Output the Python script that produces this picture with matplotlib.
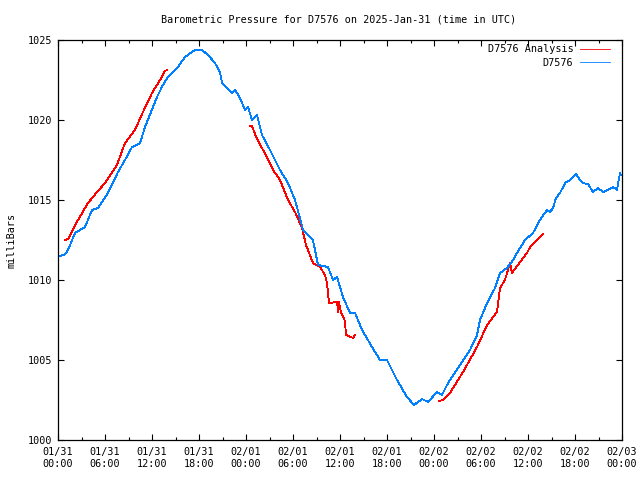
import matplotlib
matplotlib.use("Agg")
import matplotlib.pyplot as plt
from matplotlib.ticker import MultipleLocator

# Hours since 2025-01-31 00:00 UTC, pressure in millibars
obs_hours = [0.0, 0.26, 0.89, 1.28, 2.17, 2.81, 3.45, 4.34, 5.11, 6.38, 7.66, 8.55, 9.45, 10.47,
             11.11, 12.13, 12.64, 13.4, 14.04, 15.32, 16.21, 17.49, 18.38, 19.15, 20.04, 20.68,
             20.94, 21.58, 22.21, 22.6, 23.23, 23.87, 24.26, 24.77, 25.4, 26.04, 27.06, 28.34,
             29.36, 30.26, 31.28, 32.55, 33.19, 34.47, 35.11, 35.62, 36.38, 37.28, 37.92, 38.81,
             40.09, 41.11, 42.0, 43.28, 44.55, 45.45, 46.47, 47.24, 48.38, 49.02, 49.79, 51.07,
             52.6, 53.49, 53.87, 54.77, 55.79, 56.43, 57.32, 58.09, 58.6, 59.62, 60.64, 61.53,
             62.43, 62.81, 63.19, 63.58, 64.09, 64.73, 65.36, 66.13, 66.64, 67.02, 67.66, 68.3,
             68.94, 69.57, 70.21, 70.85, 71.36, 71.74, 71.87]
obs_press = [1011.44, 1011.5, 1011.6, 1011.88, 1012.94, 1013.13, 1013.31, 1014.38, 1014.5,
             1015.44, 1016.75, 1017.5, 1018.31, 1018.56, 1019.56, 1020.81, 1021.44, 1022.19,
             1022.69, 1023.31, 1023.94, 1024.38, 1024.38, 1024.06, 1023.56, 1023.0, 1022.31,
             1022.0, 1021.69, 1021.88, 1021.38, 1020.63, 1020.81, 1020.0, 1020.31, 1019.06,
             1018.13, 1016.88, 1016.06, 1015.0, 1013.13, 1012.5, 1010.94, 1010.81, 1010.0,
             1010.19, 1008.94, 1007.94, 1007.94, 1006.88, 1005.81, 1005.0, 1005.0, 1003.75,
             1002.69, 1002.19, 1002.56, 1002.38, 1003.0, 1002.81, 1003.56, 1004.5, 1005.63,
             1006.56, 1007.5, 1008.56, 1009.5, 1010.44, 1010.75, 1011.25, 1011.69, 1012.5,
             1012.94, 1013.75, 1014.38, 1014.25, 1014.5, 1015.13, 1015.44, 1016.06, 1016.25,
             1016.63, 1016.25, 1016.06, 1016.0, 1015.5, 1015.75, 1015.5, 1015.63, 1015.81,
             1015.63, 1016.69, 1016.56]

ana1_hours = [0.89, 1.28, 2.55, 3.83, 4.98, 6.0, 7.53, 8.55, 9.83, 10.85, 12.0, 13.02, 13.66, 13.92]
ana1_press = [1012.5, 1012.56, 1013.75, 1014.81, 1015.5, 1016.06, 1017.19, 1018.56, 1019.38,
              1020.5, 1021.69, 1022.5, 1023.06, 1023.13]

ana2_hours = [24.51, 24.77, 25.28, 26.17, 27.45, 28.34, 29.36, 30.26, 31.15, 31.66, 32.55, 33.45,
              34.09, 34.34, 34.6, 35.62, 35.75, 35.87, 36.13, 36.51, 36.64, 36.77, 37.66, 37.92]
ana2_press = [1019.63, 1019.63, 1018.94, 1018.13, 1016.88, 1016.25, 1015.0, 1014.25, 1013.25,
              1012.19, 1011.06, 1010.81, 1010.31, 1009.81, 1008.56, 1008.63, 1008.0, 1008.63,
              1007.94, 1007.63, 1007.38, 1006.56, 1006.38, 1006.56]

ana3_hours = [48.64, 49.15, 50.04, 51.7, 53.49, 54.77, 56.04, 56.43, 57.06, 57.7, 57.96, 58.72,
              59.87, 60.26, 61.15, 61.92]
ana3_press = [1002.44, 1002.5, 1002.94, 1004.25, 1005.81, 1007.19, 1008.0, 1009.5, 1010.0,
              1011.06, 1010.44, 1010.94, 1011.69, 1012.06, 1012.5, 1012.88]

x_tick_hours = [0, 6, 12, 18, 24, 30, 36, 42, 48, 54, 60, 66, 72]
x_tick_labels = ["01/31\n00:00", "01/31\n06:00", "01/31\n12:00", "01/31\n18:00",
                 "02/01\n00:00", "02/01\n06:00", "02/01\n12:00", "02/01\n18:00",
                 "02/02\n00:00", "02/02\n06:00", "02/02\n12:00", "02/02\n18:00",
                 "02/03\n00:00"]
y_ticks = [1000, 1005, 1010, 1015, 1020, 1025]

RED = "#ff0000"
BLUE = "#0080ff"
FONT = "DejaVu Sans Mono"
FS = 7.3

fig = plt.figure(figsize=(6.4, 4.8), dpi=100)
ax = fig.add_axes([58 / 640, 40 / 480, 564 / 640, 400 / 480])

lw = 0.6
ln_a, = ax.plot(ana1_hours, ana1_press, color=RED, lw=lw, antialiased=False)
ax.plot(ana2_hours, ana2_press, color=RED, lw=lw, antialiased=False)
ax.plot(ana3_hours, ana3_press, color=RED, lw=lw, antialiased=False)
ln_o, = ax.plot(obs_hours, obs_press, color=BLUE, lw=lw, antialiased=False)

ax.set_xlim(0, 72)
ax.set_ylim(1000, 1025)
ax.set_xticks(x_tick_hours)
ax.set_xticklabels(x_tick_labels, fontfamily=FONT, fontsize=FS)
ax.xaxis.set_minor_locator(MultipleLocator(3))
ax.set_yticks(y_ticks)
ax.set_yticklabels([str(v) for v in y_ticks], fontfamily=FONT, fontsize=FS)
ax.tick_params(which="major", direction="in", length=4.5, width=0.8, top=True, right=True, pad=4)
ax.tick_params(which="minor", direction="in", length=2.5, width=0.8, top=True, right=False)
ax.tick_params(axis="x", which="major", pad=5)
for s in ax.spines.values():
    s.set_linewidth(0.9)

ax.set_ylabel("milliBars", fontfamily=FONT, fontsize=FS, labelpad=8)
fig.text(339 / 640, 1 - 19 / 480, "Barometric Pressure for D7576 on 2025-Jan-31 (time in UTC)",
         ha="center", va="center", fontfamily=FONT, fontsize=FS)

leg = ax.legend([ln_a, ln_o], ["D7576 Analysis", "D7576"], loc="upper right",
                bbox_to_anchor=(0.9858, 1.0), borderaxespad=0.0,
                frameon=False, prop={"family": FONT, "size": FS}, markerfirst=False,
                handlelength=3.0, handletextpad=0.6, labelspacing=0.38)

fig.savefig("out.png", dpi=100)
